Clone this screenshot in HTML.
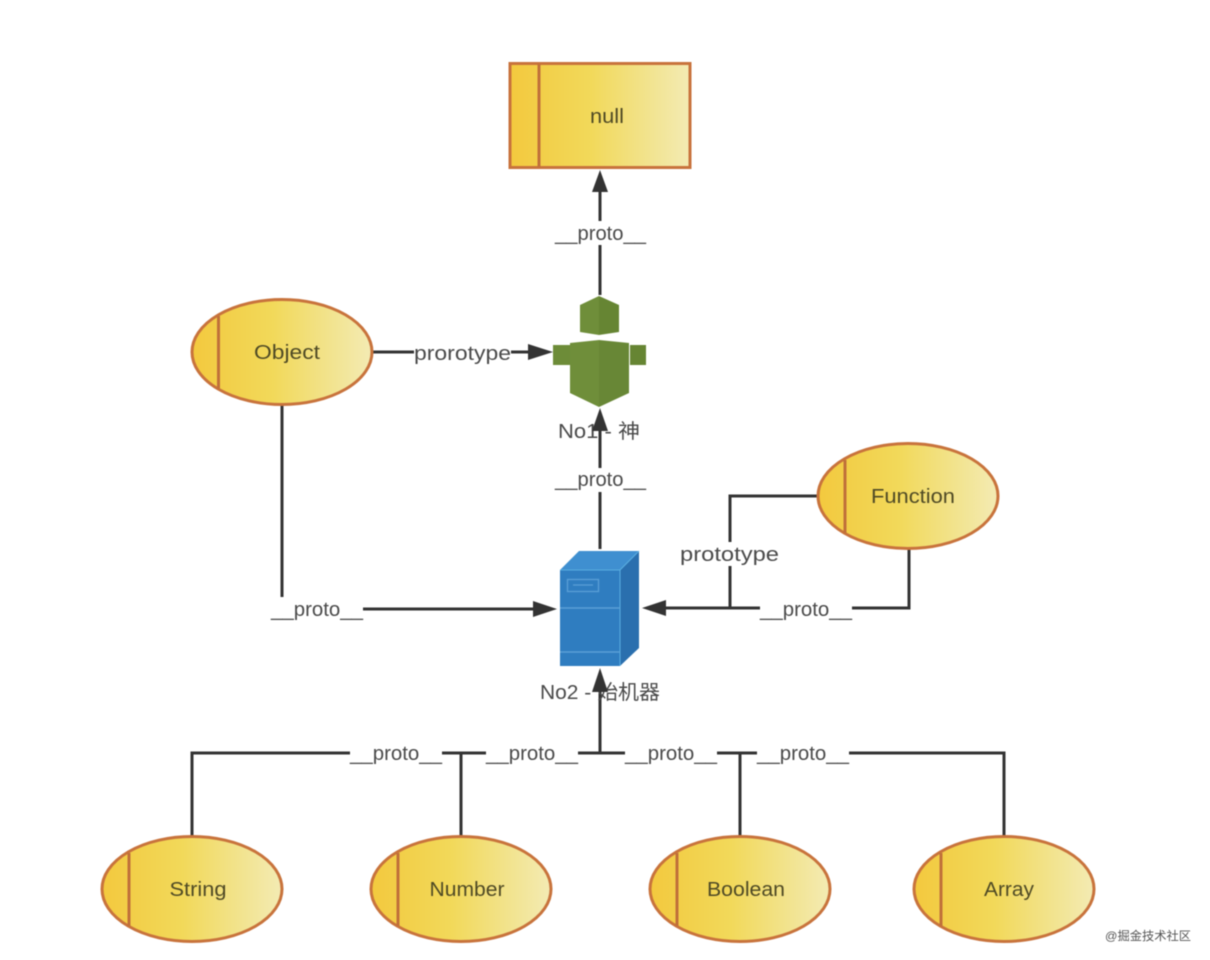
<!DOCTYPE html>
<html>
<head>
<meta charset="utf-8">
<style>
html,body{margin:0;padding:0;background:#fff;width:1210px;height:960px;overflow:hidden}
svg{display:block;filter:blur(.4px)}
text{font-family:"Liberation Sans","Noto Sans CJK SC",sans-serif}
.n{font-size:20px;fill:#4f4a25;text-anchor:middle}
.l{font-size:20px;fill:#4a4a4a;text-anchor:middle}
.c{fill:none;stroke:#333;stroke-width:3}
.s{fill:url(#g);stroke:#c8733c;stroke-width:3}
.d{stroke:#c0703a;stroke-width:3}
</style>
</head>
<body>
<svg width="1210" height="960" viewBox="0 0 1210 960" xmlns="http://www.w3.org/2000/svg">
<defs>
<linearGradient id="g" x1="0" x2="1" y1="0" y2="0">
<stop offset="0" stop-color="#f3c93e"/>
<stop offset=".45" stop-color="#f2d95a"/>
<stop offset="1" stop-color="#f3ebb4"/>
</linearGradient>
</defs>

<!-- connectors -->
<path class="c" d="M600 295V190"/>
<path class="c" d="M372 352H530"/>
<path class="c" d="M600 549V430"/>
<path class="c" d="M282 405V609H535"/>
<path class="c" d="M818 496H730V608"/>
<path class="c" d="M909 549V608H664"/>
<path class="c" d="M192 836V753H1004V836"/>
<path class="c" d="M461 836V753M740 836V753"/>
<path class="c" d="M600 753V690"/>

<!-- null -->
<rect class="s" x="510" y="63.500" width="180" height="104"/>
<path class="d" d="M539 64V167"/>
<text class="n" x="607" y="123" textLength="34" lengthAdjust="spacingAndGlyphs">null</text>

<!-- ellipses -->
<g><ellipse class="s" cx="282" cy="352" rx="90" ry="52.500"/><path class="d" d="M218.500 316V389"/><text class="n" x="287" y="359" textLength="66" lengthAdjust="spacingAndGlyphs">Object</text></g>
<g><ellipse class="s" cx="908" cy="496" rx="90" ry="52.500"/><path class="d" d="M845 460V533"/><text class="n" x="913" y="503" textLength="84" lengthAdjust="spacingAndGlyphs">Function</text></g>
<g><ellipse class="s" cx="192" cy="889" rx="90" ry="52.500"/><path class="d" d="M129 853V926"/><text class="n" x="198" y="896" textLength="57" lengthAdjust="spacingAndGlyphs">String</text></g>
<g><ellipse class="s" cx="461" cy="889" rx="90" ry="52.500"/><path class="d" d="M398 853V926"/><text class="n" x="467" y="896" textLength="75" lengthAdjust="spacingAndGlyphs">Number</text></g>
<g><ellipse class="s" cx="740" cy="889" rx="90" ry="52.500"/><path class="d" d="M677 853V926"/><text class="n" x="746" y="896" textLength="78" lengthAdjust="spacingAndGlyphs">Boolean</text></g>
<g><ellipse class="s" cx="1004" cy="889" rx="90" ry="52.500"/><path class="d" d="M941 853V926"/><text class="n" x="1009" y="896" textLength="50" lengthAdjust="spacingAndGlyphs">Array</text></g>

<!-- robot -->
<polygon points="580,305 599,296 599,335 580,332" fill="#6f8e3a"/>
<polygon points="599,296 619,305 619,332 599,335" fill="#668533"/>
<polygon points="553,345 570,345 570,365 553,365" fill="#6d8c38"/>
<polygon points="630,345 646,345 646,365 630,365" fill="#668533"/>
<polygon points="570,343 599,340 599,407 570,393" fill="#6f8e3a"/>
<polygon points="599,340 629,343 629,393 599,407" fill="#688736"/>
<text class="l" x="599" y="438" textLength="82" lengthAdjust="spacingAndGlyphs">No1 - 神</text>

<!-- server -->
<polygon points="560,570 579,551 639,551 620,570" fill="#3f8fd0"/>
<polygon points="620,570 639,551 639,648 620,666" fill="#2a6fae"/>
<rect x="560" y="570" width="60" height="96" fill="#2f7dc0"/>
<path d="M560 570H620V666M620 570L639 551" fill="none" stroke="#5aaee0" stroke-width="1"/>
<path d="M560 608H620M560 652H620" stroke="#5a9fd6" stroke-width="1.500"/>
<rect x="567.500" y="579.500" width="31" height="12" fill="none" stroke="#5a9fd6" stroke-width="1.300"/>
<path d="M573 585H593" stroke="#5a9fd6" stroke-width="1.300"/>
<text class="l" x="600" y="699" textLength="120" lengthAdjust="spacingAndGlyphs">No2 - 始机器</text>

<!-- arrowheads -->
<g fill="#333">
<polygon points="600,170 592,192 608,192"/>
<polygon points="553,352 528,344 528,360"/>
<polygon points="600,408 592,431 608,431"/>
<polygon points="557,609 533,601 533,617"/>
<polygon points="642,608 666,600 666,616"/>
<polygon points="600,668 592,692 608,692"/>
</g>

<!-- labels -->
<g fill="#fff">
<rect x="555" y="221" width="91" height="24"/>
<rect x="414" y="341" width="97" height="24"/>
<rect x="555" y="468" width="91" height="24"/>
<rect x="680" y="542" width="99" height="24"/>
<rect x="271" y="597" width="92" height="24"/>
<rect x="760" y="597" width="92" height="24"/>
<rect x="350" y="741" width="92" height="24"/>
<rect x="486" y="741" width="92" height="24"/>
<rect x="625" y="741" width="92" height="24"/>
<rect x="757" y="741" width="92" height="24"/>
</g>
<text class="l" x="600.500" y="240" textLength="91" lengthAdjust="spacingAndGlyphs">__proto__</text>
<text class="l" x="462.500" y="360" textLength="97" lengthAdjust="spacingAndGlyphs">prorotype</text>
<text class="l" x="600.500" y="486" textLength="91" lengthAdjust="spacingAndGlyphs">__proto__</text>
<text class="l" x="729.500" y="561" textLength="99" lengthAdjust="spacingAndGlyphs">prototype</text>
<text class="l" x="317" y="616" textLength="92" lengthAdjust="spacingAndGlyphs">__proto__</text>
<text class="l" x="806" y="616" textLength="92" lengthAdjust="spacingAndGlyphs">__proto__</text>
<text class="l" x="396" y="760" textLength="92" lengthAdjust="spacingAndGlyphs">__proto__</text>
<text class="l" x="532" y="760" textLength="92" lengthAdjust="spacingAndGlyphs">__proto__</text>
<text class="l" x="671" y="760" textLength="92" lengthAdjust="spacingAndGlyphs">__proto__</text>
<text class="l" x="803" y="760" textLength="92" lengthAdjust="spacingAndGlyphs">__proto__</text>

<!-- watermark -->
<text x="1105" y="940" font-size="12" fill="#555" textLength="86" lengthAdjust="spacingAndGlyphs">@掘金技术社区</text>
</svg>
</body>
</html>
